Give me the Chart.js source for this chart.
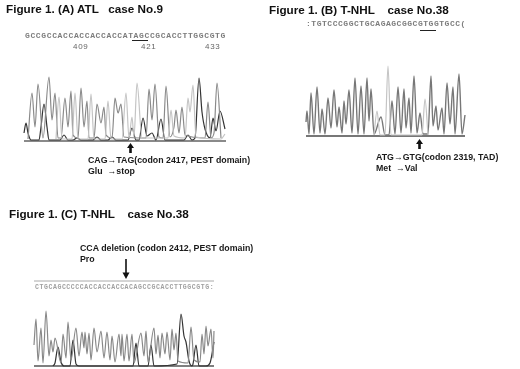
<!DOCTYPE html>
<html>
<head>
<meta charset="utf-8">
<script src="https://cdn.jsdelivr.net/npm/chart.js@4"></script>
<style>
html,body{margin:0;padding:0;background:#fff;width:520px;height:369px;overflow:hidden}
body{position:relative;font-family:"Liberation Sans",Arial,sans-serif;color:#111}
canvas{position:absolute;filter:blur(.4px)}
.t{position:absolute;white-space:pre;line-height:1;filter:blur(.25px)}
.title{font-weight:bold;font-size:11.7px}
.note{font-weight:bold;font-size:8.8px;color:#1a1a1a}
.seq{font-family:"Liberation Mono",monospace;font-weight:bold;color:#7c7c7c}
.num{font-size:8px;color:#666;letter-spacing:.7px}
.rule{position:absolute;height:1px;background:#222}
svg{position:absolute;overflow:visible}
</style>
</head>
<body>
<div class="t title" style="left:6px;top:3px">Figure 1. (A) ATL   case No.9</div>
<div class="t title" style="left:269px;top:4px">Figure 1. (B) T-NHL    case No.38</div>
<div class="t title" style="left:9px;top:208px">Figure 1. (C) T-NHL    case No.38</div>

<div class="t seq" style="left:25px;top:32px;font-size:8px;letter-spacing:.63px">GCCGCCACCACCACCACCATAGCCGCACCTTGGCGTG</div>
<div class="rule" style="left:132px;top:40px;width:16px"></div>
<div class="t num" style="left:73px;top:43px">409</div>
<div class="t num" style="left:141px;top:43px">421</div>
<div class="t num" style="left:205px;top:43px">433</div>
<div class="t seq" style="left:306px;top:20px;font-size:8px;letter-spacing:.53px">:TGTCCCGGCTGCAGAGCGGCGTGGTGCC(</div>
<div class="rule" style="left:420px;top:30px;width:16px"></div>
<div class="t seq" style="left:35px;top:285px;font-size:6.5px;letter-spacing:.58px;color:#a0a0a0">CTGCAGCCCCCACCACCACCACAGCCGCACCTTGGCGTG:</div>

<div class="t note" style="left:88px;top:156px">CAG→TAG(codon 2417, PEST domain)</div>
<div class="t note" style="left:88px;top:167px">Glu  →stop</div>
<div class="t note" style="left:376px;top:153px">ATG→GTG(codon 2319, TAD)</div>
<div class="t note" style="left:376px;top:164px">Met  →Val</div>
<div class="t note" style="left:80px;top:244px">CCA deletion (codon 2412, PEST domain)</div>
<div class="t note" style="left:80px;top:255px">Pro</div>

<svg style="left:0;top:0" width="520" height="369">
<path d="M130.5 143l-3.5 5h2.2v5h2.6v-5h2.2z" fill="#111"/>
<path d="M419.5 139l-3.5 5h2.2v5h2.6v-5h2.2z" fill="#111"/>
<path d="M126 259v14" stroke="#111" stroke-width="1.6"/>
<path d="M126 279l-3.5-6.5h7z" fill="#111"/>
</svg>

<canvas id="panelA"></canvas>
<canvas id="panelB"></canvas>
<canvas id="panelC"></canvas>

<script>
// panel A trace, x = scan position, y = signal height
const aGrayX=[4,8,11,14,19,25,28,31,34,37,41,44,47,49,54,57,60,63,65,70,73,77,80,82,88,91,94,97,100,122,125,128,131,135,139,142,146,150,152,155,158,161,181,184,187,190,193,197]
const aGrayY=[2,48,14,57,3,64,21,48,3,3,43,14,50,6,3,53,14,40,3,3,37,18,34,6,3,43,28,37,4,3,52,21,57,4,3,55,4,14,31,8,34,6,3,39,3,8,58,3]
const aLightX=[32,35,38,48,51,54,64,67,70,81,84,87,98,102,105,108,110,113,118,144,147,150,161,164,166,169,172,197,201]
const aLightY=[2,44,2,2,48,2,2,47,2,2,40,2,2,48,3,24,4,58,3,3,31,5,3,43,29,56,4,2,7]
const aDarkX=[0,2,4,7,15,17,20,23,25,36,40,44,49,53,57,69,73,77,84,88,92,104,108,112,115,119,123,128,132,137,141,160,164,168,171,175,178,181,186,189,192,196,201]
const aDarkY=[8,18,8,1,1,14,37,14,1,1,6,1,1,3,1,1,4,1,1,4,1,1,13,1,1,23,5,8,1,22,1,1,6,1,3,63,29,12,3,23,10,30,12]
const aBaseX=[0,202]
const aBaseY=[0,0]

// panel B trace
const bGrayX=[0,1,3,5,8,11,14,16,19,22,25,28,31,33,36,38,40,43,46,49,52,55,58,61,63,65,68,75,79,83,86,89,92,95,98,100,103,105,108,111,114,117,122,125,127,130,132,136,138,141,144,147,149,153,156,159]
const bGrayY=[14,25,2,43,2,49,3,27,2,38,8,46,9,29,3,35,12,46,3,58,2,50,2,58,15,47,2,19,1,1,35,2,49,3,47,8,38,3,60,3,23,2,2,60,10,30,6,28,2,53,12,49,2,62,2,21]
const bLightX=[68,71,74,79,82,85,116,119,122]
const bLightY=[1,25,1,1,70,1,1,37,1]
const bBaseX=[0,159]
const bBaseY=[0,0]

// panel C trace
const cGrayX=[0,2,4,7,9,12,15,17,19,21,27,29,32,34,37,42,45,48,50,51,53,55,57,60,63,67,70,73,76,78,81,85,87,88,90,93,95,98,100,107,110,112,114,120,122,124,126,128,131,133,136,138,140,142,144,154,157,160,166,168,170,172,174,177,179,180]
const cGrayY=[21,47,5,38,3,55,10,26,14,28,3,32,8,44,6,38,10,34,18,34,12,33,6,38,14,35,8,34,6,30,4,32,10,32,5,32,5,32,3,33,10,35,4,38,12,31,8,33,12,34,6,37,16,33,5,3,39,6,4,32,12,40,20,37,8,35]
const cDarkX=[19,21,24,27,30,36,39,42,45,99,102,105,114,117,120,143,147,150,152,155,158,159,162,165,172,176,180]
const cDarkY=[0,3,19,4,0,0,26,2,0,0,23,0,0,21,0,2,52,30,24,5,0,2,21,0,0,3,24]
const cBaseX=[0,180]
const cBaseY=[0,0]
const cTopY=[85,85]

function points(xs,ys){
    return xs.map((x,i)=>({x:x,y:ys[i]}))
}
function trace(xs,ys,color,width){
    return {data:points(xs,ys),borderColor:color,borderWidth:width||1.2,pointRadius:0,cubicInterpolationMode:'monotone',clip:false}
}
function straight(xs,ys,color,width){
    return {data:points(xs,ys),borderColor:color,borderWidth:width,pointRadius:0,tension:0,clip:false}
}
const pad=4
function panel(id,left,bottom,w,h,datasets){
    const el=document.getElementById(id)
    el.width=w+pad*2
    el.height=h+pad*2
    el.style.width=(w+pad*2)+'px'
    el.style.height=(h+pad*2)+'px'
    el.style.left=(left-pad)+'px'
    el.style.top=(bottom-h-pad)+'px'
    new Chart(el,{
        type:'line',
        data:{datasets:datasets},
        options:{
            responsive:false,
            animation:false,
            devicePixelRatio:1,
            layout:{padding:pad},
            plugins:{legend:{display:false},tooltip:{enabled:false}},
            scales:{
                x:{type:'linear',display:false,min:0,max:w},
                y:{type:'linear',display:false,min:0,max:h}
            }
        }
    })
}

panel('panelA',24,141,202,72,[
    trace(aLightX,aLightY,'#c4c4c4'),
    trace(aGrayX,aGrayY,'#8a8a8a'),
    trace(aDarkX,aDarkY,'#333'),
    straight(aBaseX,aBaseY,'#8a8a8a',2)
])
panel('panelB',306,136,159,75,[
    trace(bLightX,bLightY,'#c4c4c4'),
    trace(bGrayX,bGrayY,'#777',1.4),
    straight(bBaseX,bBaseY,'#777',2)
])
panel('panelC',34,366,180,85,[
    trace(cGrayX,cGrayY,'#888'),
    trace(cDarkX,cDarkY,'#333'),
    straight(cBaseX,cBaseY,'#555',1.6),
    straight(cBaseX,cTopY,'#aaa',1)
])
</script>
</body>
</html>
